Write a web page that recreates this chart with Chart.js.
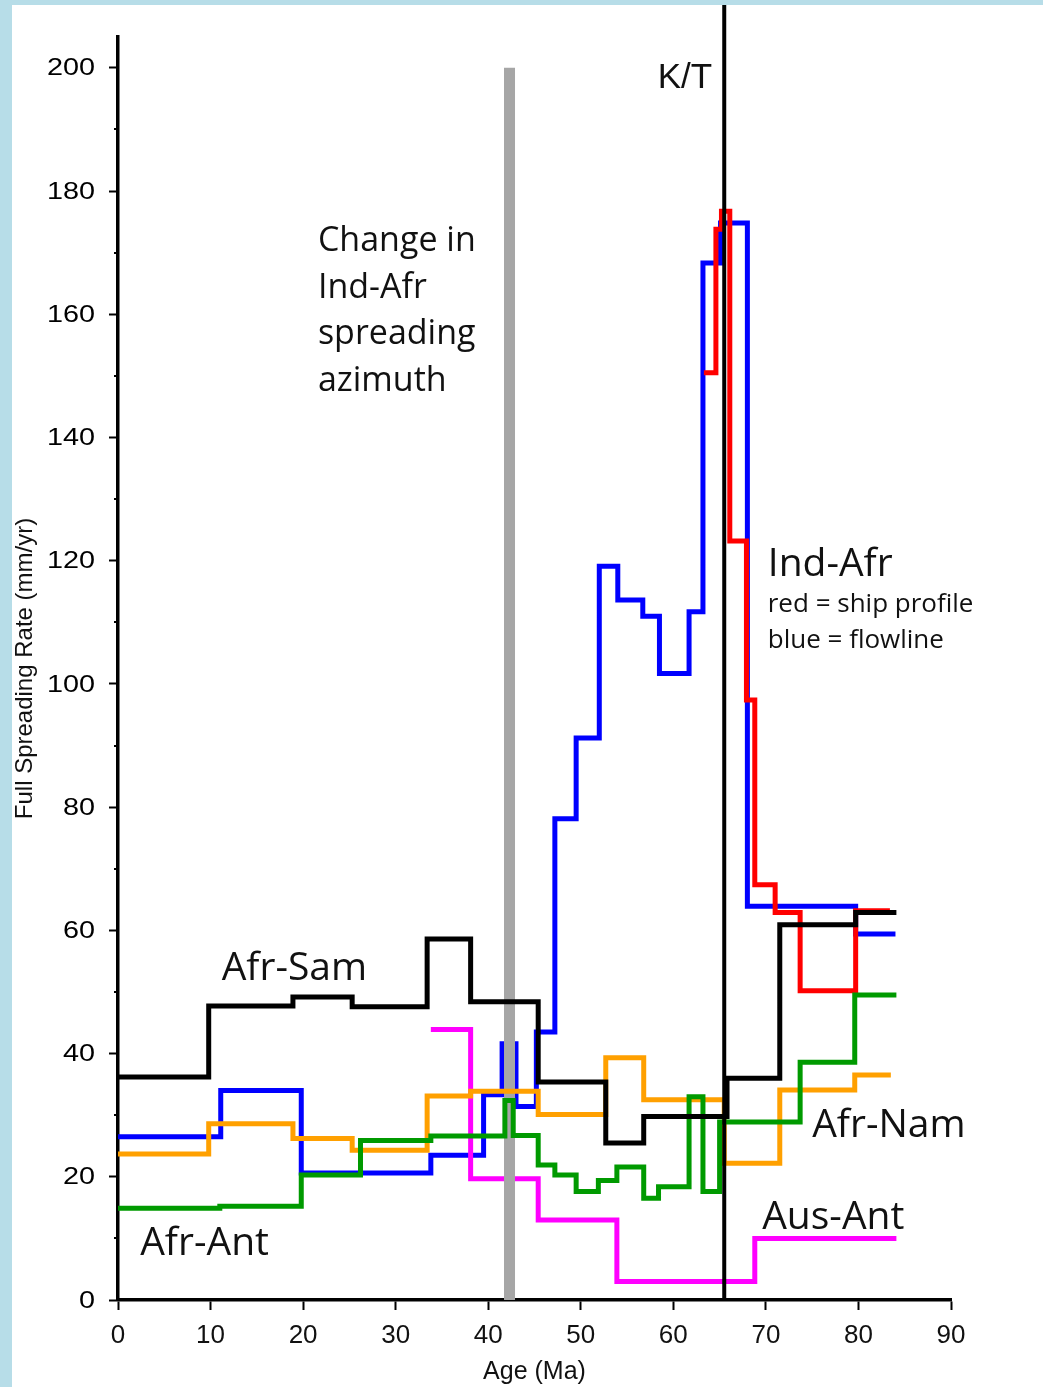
<!DOCTYPE html>
<html>
<head>
<meta charset="utf-8">
<script src="https://cdn.jsdelivr.net/npm/chart.js@4.4.1/dist/chart.umd.min.js"></script>
<style>
  html, body { margin: 0; padding: 0; background: #ffffff; }
  #wrap { width: 1043px; height: 1387px; position: relative; }
  canvas { display: block; }
</style>
</head>
<body>
<div id="wrap"><canvas id="chart" width="1043" height="1387"></canvas></div>
<script>
// Full spreading rates as step functions: *_AGES are interval boundaries (Ma),
// *_RATES the rate (mm/yr) held over each interval.
const AFR_SAM_AGES  = [0, 9.8, 18.9, 25.3, 33.4, 38.1, 45.4, 52.7, 56.8, 65.8, 71.5, 79.7, 84.1];
const AFR_SAM_RATES = [36.2, 47.7, 49.2, 47.6, 58.6, 48.4, 35.4, 25.5, 29.8, 36.0, 60.9, 62.9];

const IND_AFR_FLOW_AGES  = [0, 11.1, 19.8, 33.8, 39.5, 41.5, 43.0, 45.2, 47.2, 49.5, 52.0, 54.0, 56.7, 58.5, 61.7, 63.2, 65.1, 68.0, 79.7, 84.0];
const IND_AFR_FLOW_RATES = [26.5, 34.0, 20.6, 23.5, 33.3, 41.6, 31.4, 43.5, 78.1, 91.2, 119.1, 113.6, 111.0, 101.7, 111.7, 168.3, 174.8, 63.9, 59.4];

const IND_AFR_SHIP_AGES  = [63.3, 64.6, 65.2, 66.1, 67.9, 68.8, 71.0, 73.7, 79.7, 83.4];
const IND_AFR_SHIP_RATES = [150.5, 173.8, 176.7, 123.2, 97.4, 67.4, 62.9, 50.2, 63.2];

const AFR_ANT_AGES  = [0, 11.0, 19.8, 26.2, 33.8, 41.8, 42.7, 45.4, 47.2, 49.5, 51.9, 53.9, 56.8, 58.4, 61.7, 63.2, 65.0, 73.7, 79.6, 84.1];
const AFR_ANT_RATES = [14.9, 15.2, 20.3, 25.9, 26.6, 32.4, 26.7, 21.9, 20.3, 17.6, 19.4, 21.6, 16.5, 18.4, 33.0, 17.6, 28.9, 38.6, 49.5];

const AFR_NAM_AGES  = [0, 9.8, 18.9, 25.3, 33.4, 38.1, 45.4, 52.7, 56.8, 65.5, 71.5, 79.6, 83.5];
const AFR_NAM_RATES = [23.7, 28.6, 26.2, 24.3, 33.1, 33.9, 30.1, 39.3, 32.5, 22.2, 34.1, 36.5];

const AUS_ANT_AGES  = [33.8, 38.1, 45.4, 53.9, 68.8, 84.1];
const AUS_ANT_RATES = [43.9, 19.7, 13.0, 3.0, 10.0];

// Reference events (Ma)
const KT_AGE = 65.5;
const AZIMUTH_CHANGE_AGE = 42.3;

// Axis ticks
const X_TICKS = [0, 10, 20, 30, 40, 50, 60, 70, 80, 90];
const Y_TICKS = [0, 20, 40, 60, 80, 100, 120, 140, 160, 180, 200];
const Y_MINOR_TICKS = [10, 30, 50, 70, 90, 110, 130, 150, 170, 190];

// Build a "hold value until next boundary" point list for a stepped line.
function stepPoints(ages, rates) {
  const pts = rates.map((r, i) => ({ x: ages[i], y: r }));
  pts.push({ x: ages[ages.length - 1], y: rates[rates.length - 1] });
  return pts;
}

function stepSeries(label, ages, rates, color, order) {
  return {
    label: label,
    data: stepPoints(ages, rates),
    stepped: 'before',
    borderColor: color,
    borderWidth: 5,
    borderJoinStyle: 'miter',
    borderCapStyle: 'butt',
    pointRadius: 0,
    fill: false,
    clip: false,
    order: order
  };
}

const SANS = '"Liberation Sans", Arial, Helvetica, sans-serif';
const LABEL_FONT = '"Open Sans", "Noto Sans", sans-serif';

// Page frame: light blue strips along the top and left edges
const framePlugin = {
  id: 'frame',
  beforeDraw(chart) {
    const ctx = chart.ctx;
    ctx.save();
    ctx.fillStyle = '#ffffff';
    ctx.fillRect(0, 0, chart.width, chart.height);
    ctx.fillStyle = '#b7dde8';
    ctx.fillRect(0, 0, chart.width, 5);
    ctx.fillRect(0, 0, 12, chart.height);
    ctx.restore();
  }
};

// Short minor ticks on the rate axis and wide tick labels
const rateAxisPlugin = {
  id: 'rateAxis',
  afterDraw(chart) {
    const y = chart.scales.y;
    const ctx = chart.ctx;
    const left = chart.chartArea.left;
    ctx.save();
    ctx.strokeStyle = '#000';
    ctx.lineWidth = 2;
    Y_MINOR_TICKS.forEach(v => {
      const py = Math.round(y.getPixelForValue(v));
      ctx.beginPath();
      ctx.moveTo(left - 4, py);
      ctx.lineTo(left, py);
      ctx.stroke();
    });
    ctx.fillStyle = '#000';
    ctx.font = '24px ' + SANS;
    ctx.textAlign = 'right';
    ctx.textBaseline = 'middle';
    y.ticks.forEach(t => {
      const py = y.getPixelForValue(t.value);
      ctx.save();
      ctx.translate(left - 23, py + 1);
      ctx.scale(1.2, 1);
      ctx.fillText(String(t.value), 0, 0);
      ctx.restore();
    });
    ctx.restore();
  }
};

// Text annotations placed in data coordinates
const NOTES = [
  { lines: ['K/T'], x: 64.2, y: 196.8, font: '35px ' + SANS, align: 'right', step: 0 },
  { lines: ['Change in', 'Ind-Afr', 'spreading', 'azimuth'], x: 21.6, y: 170.2, font: '34px ' + LABEL_FONT, align: 'left', step: 7.55 },
  { lines: ['Ind-Afr'], x: 70.2, y: 117.5, font: '39px ' + LABEL_FONT, align: 'left', step: 0 },
  { lines: ['red = ship profile', 'blue = flowline'], x: 70.2, y: 111.6, font: '26px ' + LABEL_FONT, align: 'left', step: 5.7 },
  { lines: ['Afr-Sam'], x: 11.2, y: 51.9, font: '39px ' + LABEL_FONT, align: 'left', step: 0 },
  { lines: ['Afr-Ant'], x: 2.4, y: 7.3, font: '39px ' + LABEL_FONT, align: 'left', step: 0 },
  { lines: ['Afr-Nam'], x: 75.0, y: 26.4, font: '39px ' + LABEL_FONT, align: 'left', step: 0 },
  { lines: ['Aus-Ant'], x: 69.6, y: 11.5, font: '39px ' + LABEL_FONT, align: 'left', step: 0 }
];

const notesPlugin = {
  id: 'notes',
  afterDraw(chart) {
    const xs = chart.scales.x, ys = chart.scales.y, ctx = chart.ctx;
    ctx.save();
    ctx.fillStyle = '#111';
    ctx.textBaseline = 'alphabetic';
    NOTES.forEach(n => {
      ctx.font = n.font;
      ctx.textAlign = n.align;
      n.lines.forEach((line, i) => {
        ctx.fillText(line, xs.getPixelForValue(n.x), ys.getPixelForValue(n.y - i * n.step));
      });
    });
    ctx.restore();
  }
};

const datasets = [
  {
    label: 'K/T',
    data: [{ x: KT_AGE, y: 0 }, { x: KT_AGE, y: 210.2 }],
    borderColor: '#000000',
    borderWidth: 4,
    borderCapStyle: 'butt',
    pointRadius: 0,
    clip: false,
    order: 0
  },
  stepSeries('Afr-Sam', AFR_SAM_AGES, AFR_SAM_RATES, '#000000', 1),
  stepSeries('Afr-Ant', AFR_ANT_AGES, AFR_ANT_RATES, '#009a00', 2),
  stepSeries('Afr-Nam', AFR_NAM_AGES, AFR_NAM_RATES, '#ffa000', 3),
  {
    label: 'Change in Ind-Afr spreading azimuth',
    data: [{ x: AZIMUTH_CHANGE_AGE, y: 0 }, { x: AZIMUTH_CHANGE_AGE, y: 200 }],
    borderColor: '#a6a6a6',
    borderWidth: 11,
    borderCapStyle: 'butt',
    pointRadius: 0,
    clip: false,
    order: 4
  },
  stepSeries('Aus-Ant', AUS_ANT_AGES, AUS_ANT_RATES, '#ff00ff', 5),
  stepSeries('Ind-Afr ship profile', IND_AFR_SHIP_AGES, IND_AFR_SHIP_RATES, '#ff0000', 6),
  stepSeries('Ind-Afr flowline', IND_AFR_FLOW_AGES, IND_AFR_FLOW_RATES, '#0000ff', 7)
];

new Chart(document.getElementById('chart'), {
  type: 'line',
  data: { datasets: datasets },
  options: {
    responsive: false,
    animation: false,
    events: [],
    layout: { padding: { top: 37, right: 92, bottom: 0, left: 0 } },
    plugins: {
      legend: { display: false },
      tooltip: { enabled: false },
      title: { display: false }
    },
    scales: {
      x: {
        type: 'linear',
        position: 'bottom',
        min: 0,
        max: 90,
        afterBuildTicks: s => { s.ticks = X_TICKS.map(v => ({ value: v })); },
        afterFit: s => { s.height = 87; },
        ticks: {
          color: '#111',
          font: { family: SANS, size: 26 },
          padding: 10,
          maxRotation: 0,
          autoSkip: false
        },
        grid: {
          drawOnChartArea: false,
          drawTicks: true,
          tickLength: 10,
          tickWidth: 2,
          tickColor: '#000'
        },
        border: { display: true, color: '#000', width: 3.5 },
        title: {
          display: true,
          text: 'Age (Ma)',
          color: '#111',
          font: { family: SANS, size: 25 },
          padding: { top: 0, bottom: 0 }
        }
      },
      y: {
        type: 'linear',
        position: 'left',
        min: 0,
        max: 205,
        afterBuildTicks: s => { s.ticks = Y_TICKS.map(v => ({ value: v })); },
        afterFit: s => { s.width = 118; },
        ticks: { display: false },
        grid: {
          drawOnChartArea: false,
          drawTicks: true,
          tickLength: 9,
          tickWidth: 2,
          tickColor: '#000'
        },
        border: { display: true, color: '#000', width: 3.5 },
        title: {
          display: true,
          text: 'Full Spreading Rate (mm/yr)',
          color: '#111',
          font: { family: SANS, size: 24 },
          padding: { top: 11, bottom: 0 }
        }
      }
    }
  },
  plugins: [framePlugin, rateAxisPlugin, notesPlugin]
});
</script>
</body>
</html>
